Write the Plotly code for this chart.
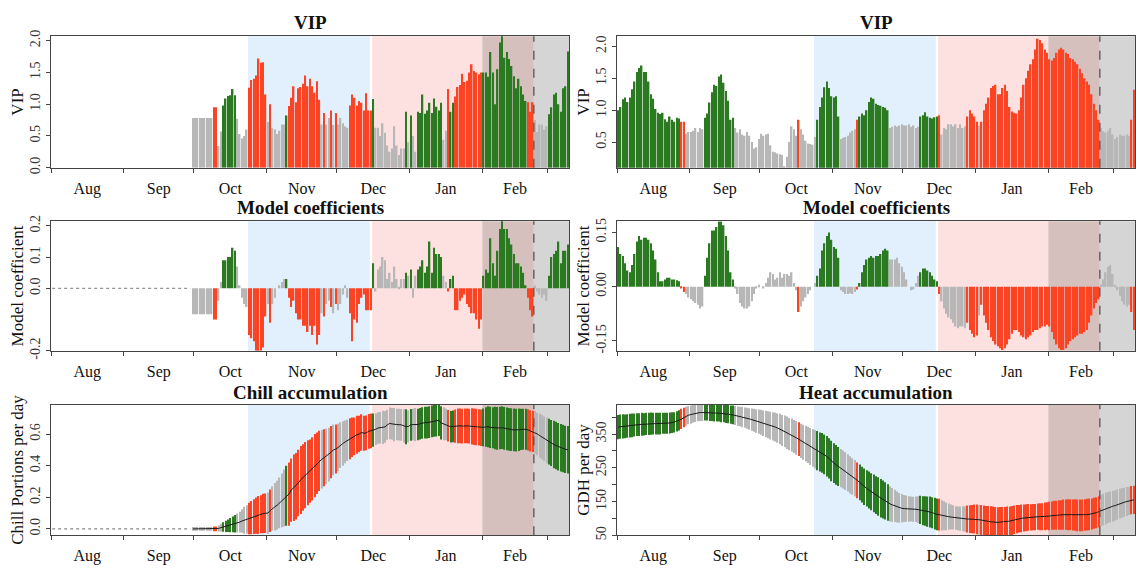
import pandas as pd
import plotly.graph_objects as go

# ---------------- data ----------------
START_DATE = "2000-08-01"
END_DATE = "2001-03-10"
MONTH_STARTS = ["2000-08-01", "2000-09-01", "2000-10-01", "2000-11-01",
                "2000-12-01", "2001-01-01", "2001-02-01", "2001-03-01"]
MONTH_LABELS = ["Aug", "Sep", "Oct", "Nov", "Dec", "Jan", "Feb"]
CHILL_PERIOD = ("2000-10-24", "2000-12-15")
FORCING_PERIOD = ("2000-12-16", "2001-02-01")
BLOOM_EARLY = ("2001-02-01", "2001-02-23")
BLOOM_LATE = ("2001-02-23", END_DATE)
BLOOM_MEAN = "2001-02-23"
VIP_THRESHOLD = 0.8

# Left column (chill) -- one value per day from Aug 1
vip_left = [
    0, 0, 0, 0, 0, 0, 0, 0, 0, 0, 0, 0, 0, 0, 0, 0, 0, 0, 0, 0,
    0, 0, 0, 0, 0, 0, 0, 0, 0, 0, 0, 0, 0, 0, 0, 0, 0, 0, 0, 0,
    0, 0, 0, 0, 0, 0, 0, 0, 0, 0, 0, 0, 0, 0, 0, 0, 0, 0, 0, 0,
    0.78, 0.78, 0.78, 0.78, 0.78, 0.78, 0.78, 0.78, 0.78,
    0.95, 0.95, 0.34, 0.57,
    0.98, 1.09, 1.13, 1.14, 1.24, 1.14,
    0.77, 0.53, 0.46, 0.5, 0.6,
    1.26, 1.38, 1.4, 1.45, 1.72, 1.65, 1.66, 1.15,
    0.72, 1.0, 0.62, 0.6, 0.53, 0.58, 0.68, 0.68,
    0.82,
    0.97, 1.1, 1.28, 1.03, 1.25, 1.27, 1.32, 1.45, 1.28, 1.4, 1.28, 1.18, 1.36, 1.07,
    0.68, 0.86, 0.68, 0.78, 0.9, 0.67, 0.86, 0.68, 0.78, 0.7, 0.65, 0.63,
    0.98, 1.15, 1.1, 0.98, 1.05, 1.02, 0.9, 1.17, 0.9, 0.9,
    1.08,
    0.63, 0.63, 0.5, 0.7, 0.55, 0.35, 0.25, 0.3, 0.65, 0.35, 0.2, 0.3, 0.3,
    0.88, 0.4, 0.82, 0.5, 0.25,
    0.88, 0.86, 1.15, 0.85, 0.9, 1.02, 0.86, 1.09, 0.96, 0.9, 1.02,
    0.44, 0.58,
    1.24, 0.88, 1.02,
    1.12, 1.27, 1.3, 1.48, 1.35, 1.37, 1.5, 1.63, 1.52, 1.5, 1.47, 1.5,
    1.5, 1.5, 1.43, 1.82, 1.5, 1.0, 1.55, 1.97, 2.08, 1.73, 1.82, 1.71, 1.6, 1.44,
    1.25, 1.4, 1.28, 1.15, 1.05,
    1.03, 0.88, 1.03,
    0.75, 0.56, 0.68, 0.68, 0.6, 0.65,
    0.84, 0.95, 1.15, 1.18, 1.0, 0.88, 1.25, 1.28, 1.83,
]
coef_left = [
    0, 0, 0, 0, 0, 0, 0, 0, 0, 0, 0, 0, 0, 0, 0, 0, 0, 0, 0, 0,
    0, 0, 0, 0, 0, 0, 0, 0, 0, 0, 0, 0, 0, 0, 0, 0, 0, 0, 0, 0,
    0, 0, 0, 0, 0, 0, 0, 0, 0, 0, 0, 0, 0, 0, 0, 0, 0, 0, 0, 0,
    -0.083, -0.083, -0.083, -0.083, -0.083, -0.083, -0.083, -0.083, -0.083,
    -0.1, -0.1, -0.04, 0.02,
    0.09, 0.09, 0.1, 0.1, 0.13, 0.12,
    0.07, 0.01, -0.03, -0.05, -0.06,
    -0.15, -0.16, -0.17, -0.2, -0.21, -0.2, -0.19, -0.09,
    -0.05, -0.11, -0.05, -0.03, 0.0, 0.01, 0.02, 0.03,
    0.03,
    -0.03, -0.06, -0.04, -0.08, -0.1, -0.1, -0.12, -0.12, -0.14, -0.12, -0.15, -0.12, -0.18, -0.15,
    -0.08, -0.09, -0.05, -0.04, -0.06, -0.08, -0.05, -0.07, -0.05, -0.02, 0.01, -0.03,
    -0.08, -0.17, -0.1, -0.11, -0.05, -0.03, -0.02, -0.07, -0.07, -0.07,
    0.08,
    -0.01, 0.06, 0.07, 0.1, 0.09, 0.03, 0.05, 0.02, 0.07, 0.03, 0.005, 0.03, 0.03,
    0.05, 0.04, 0.06, -0.03, 0.04,
    0.06, 0.07, 0.09, 0.05, 0.07, 0.15, 0.05, 0.13, 0.11, 0.11, 0.1,
    0.04, 0.02,
    -0.01, 0.03, 0.04,
    -0.07, -0.07, -0.04, -0.03, -0.02, -0.05, -0.06, -0.08, -0.08, -0.1, -0.13, -0.1,
    0.04, 0.06, 0.05, 0.16, 0.08, 0.04, 0.12, 0.19, 0.22, 0.19, 0.19, 0.16, 0.14, 0.11,
    0.08, 0.08, 0.07, 0.05, 0.01,
    -0.03, -0.07, -0.09,
    0.01, -0.01, -0.02, -0.03, -0.02, -0.04,
    0.04, 0.1, 0.11, 0.12, 0.15, 0.08, 0.12, 0.12, 0.14,
]
chill_mean = [
    0, 0, 0, 0, 0, 0, 0, 0, 0, 0, 0, 0, 0, 0, 0, 0, 0, 0, 0, 0,
    0, 0, 0, 0, 0, 0, 0, 0, 0, 0, 0, 0, 0, 0, 0, 0, 0, 0, 0, 0,
    0, 0, 0, 0, 0, 0, 0, 0, 0, 0, 0, 0, 0, 0, 0, 0, 0, 0, 0, 0,
    0.0, 0.0, 0.0, 0.0, 0.0, 0.0, 0.0, 0.0, 0.0, 0.0,
    0.001, 0.003, 0.008, 0.012, 0.016, 0.02, 0.024, 0.029, 0.033, 0.038,
    0.043, 0.05, 0.055, 0.06, 0.066, 0.072, 0.078, 0.084, 0.088, 0.093,
    0.097, 0.099, 0.1, 0.115, 0.13, 0.14, 0.15, 0.165, 0.18, 0.195,
    0.21, 0.22, 0.245, 0.26, 0.27, 0.29, 0.31, 0.325, 0.34, 0.355,
    0.365, 0.38, 0.4, 0.415, 0.43, 0.44, 0.45, 0.46, 0.47, 0.485,
    0.5, 0.505, 0.515, 0.53, 0.54, 0.55, 0.56, 0.57, 0.58, 0.585,
    0.595, 0.6, 0.61, 0.605, 0.607, 0.617, 0.62, 0.625, 0.63, 0.638,
    0.64, 0.642, 0.645, 0.658, 0.667, 0.664, 0.66, 0.66, 0.659, 0.658,
    0.652, 0.646, 0.648, 0.658, 0.66, 0.66, 0.66, 0.665, 0.67, 0.672,
    0.672, 0.675, 0.68, 0.683, 0.684, 0.687, 0.67, 0.665, 0.66, 0.652,
    0.646, 0.648, 0.65, 0.652, 0.652, 0.65, 0.652, 0.652, 0.65, 0.648,
    0.646, 0.644, 0.642, 0.64, 0.642, 0.645, 0.646, 0.642, 0.64, 0.638,
    0.636, 0.638, 0.64, 0.636, 0.633, 0.63, 0.628, 0.626, 0.625, 0.627,
    0.629, 0.63, 0.63, 0.626, 0.62, 0.617, 0.61, 0.6, 0.59, 0.58,
    0.57, 0.56, 0.552, 0.543, 0.534, 0.527, 0.52, 0.513, 0.508, 0.503,
    0.5,
]
chill_sd = [
    0, 0, 0, 0, 0, 0, 0, 0, 0, 0, 0, 0, 0, 0, 0, 0, 0, 0, 0, 0,
    0, 0, 0, 0, 0, 0, 0, 0, 0, 0, 0, 0, 0, 0, 0, 0, 0, 0, 0, 0,
    0, 0, 0, 0, 0, 0, 0, 0, 0, 0, 0, 0, 0, 0, 0, 0, 0, 0, 0, 0,
    0.012, 0.012, 0.012, 0.012, 0.012, 0.012, 0.012, 0.012, 0.012, 0.015,
    0.015, 0.02, 0.025, 0.03, 0.035, 0.04, 0.045, 0.05, 0.055, 0.06,
    0.065, 0.075, 0.085, 0.09, 0.1, 0.105, 0.11, 0.115, 0.12, 0.12,
    0.125, 0.125, 0.13, 0.135, 0.14, 0.15, 0.155, 0.16, 0.17, 0.18,
    0.19, 0.2, 0.2, 0.21, 0.21, 0.21, 0.215, 0.21, 0.21, 0.205,
    0.2, 0.2, 0.2, 0.195, 0.19, 0.185, 0.18, 0.175, 0.17, 0.165,
    0.16, 0.155, 0.15, 0.145, 0.14, 0.135, 0.13, 0.13, 0.125, 0.12,
    0.12, 0.115, 0.115, 0.11, 0.11, 0.11, 0.11, 0.105, 0.1, 0.1,
    0.1, 0.105, 0.1, 0.095, 0.1, 0.1, 0.105, 0.1, 0.1, 0.1,
    0.105, 0.11, 0.1, 0.1, 0.1, 0.105, 0.1, 0.1, 0.1, 0.1,
    0.1, 0.1, 0.1, 0.1, 0.1, 0.1, 0.105, 0.105, 0.1, 0.1,
    0.1, 0.1, 0.105, 0.11, 0.11, 0.11, 0.11, 0.11, 0.11, 0.115,
    0.115, 0.115, 0.115, 0.115, 0.12, 0.125, 0.13, 0.13, 0.13, 0.135,
    0.135, 0.135, 0.135, 0.135, 0.135, 0.135, 0.135, 0.135, 0.135, 0.135,
    0.13, 0.13, 0.13, 0.13, 0.13, 0.13, 0.135, 0.135, 0.14, 0.14,
    0.14, 0.145, 0.145, 0.145, 0.15, 0.15, 0.15, 0.15, 0.15, 0.15,
    0.15,
]

# Right column (heat) -- one value per day from Aug 1
vip_right = [
    1.0, 1.05, 1.17, 1.2, 1.13, 1.2, 1.33, 1.45, 1.6, 1.66, 1.7, 1.6, 1.6, 1.45,
    1.25, 1.18, 1.02, 0.96, 0.94, 0.96, 0.86, 0.82, 0.9, 0.85, 0.82, 0.88, 0.87,
    0.82, 0.82,
    0.63, 0.66, 0.66, 0.68, 0.72, 0.66, 0.72, 0.7,
    0.88, 0.95, 1.12, 1.28, 1.4, 1.38, 1.53, 1.56, 1.43, 1.3, 1.15, 0.85, 0.88,
    0.72, 0.65, 0.7, 0.62, 0.6, 0.66, 0.6, 0.5, 0.4, 0.42, 0.55, 0.63, 0.6, 0.62,
    0.63, 0.45, 0.35, 0.34, 0.32, 0.31, 0.3, 0.12, 0.27, 0.5, 0.75, 0.7, 0.6,
    0.85,
    0.7, 0.62, 0.52, 0.48, 0.47, 0.46, 0.58,
    0.85, 1.05, 1.2, 1.36, 1.45, 1.35, 1.22, 1.2, 1.22, 0.9,
    0.55, 0.57, 0.58, 0.6, 0.65, 0.68, 0.7,
    0.85,
    0.9, 0.95, 0.92, 1.0, 1.13, 1.2, 1.18, 1.1, 1.08, 1.07, 1.05, 1.04, 1.0,
    0.72, 0.74, 0.76, 0.74, 0.76, 0.78, 0.76, 0.76, 0.78, 0.74, 0.76, 0.72, 0.74,
    0.9, 0.92, 0.97, 0.9, 0.88, 0.87, 0.89, 0.9,
    0.92,
    0.62, 0.72, 0.7, 0.78, 0.78, 0.75, 0.78, 0.72, 0.78, 0.72, 0.75,
    0.9, 1.0, 0.95, 0.9, 0.82,
    0.76,
    0.82, 1.0, 1.1, 1.2, 1.35, 1.38, 1.4, 1.25, 1.25, 1.35, 1.4, 1.3, 1.05, 0.98,
    0.96, 0.95, 1.0, 1.2, 1.4, 1.5, 1.62, 1.72, 1.8, 1.95, 2.12, 2.1, 2.05, 1.95,
    1.9, 1.8, 1.78, 1.82, 1.9, 1.95, 1.98, 1.95, 1.9, 1.88, 1.82, 1.8, 1.76, 1.72,
    1.65, 1.58, 1.5, 1.45, 1.4, 1.25, 1.1, 1.0, 0.85,
    0.72, 0.67, 0.65, 0.68, 0.72, 0.62, 0.55, 0.58, 0.62, 0.6, 0.6, 0.62, 0.6,
    0.85, 1.32,
]
coef_right = [
    0.11, 0.09, 0.085, 0.065, 0.045, 0.04, 0.06, 0.09, 0.125, 0.14, 0.13, 0.135,
    0.135, 0.13, 0.12, 0.1, 0.075, 0.04, 0.015, 0.015, 0.02, 0.025, 0.025, 0.02,
    0.02, 0.018, 0.015,
    -0.005, -0.015,
    -0.02, -0.03, -0.035, -0.04, -0.045, -0.05, -0.06, -0.055,
    0.03, 0.08, 0.12, 0.155, 0.155, 0.165, 0.18, 0.18, 0.17, 0.14, 0.1, 0.04, 0.02,
    -0.005, -0.02, -0.045, -0.055, -0.06, -0.06, -0.055, -0.04, -0.02, -0.005,
    0.005, 0.0, -0.005, 0.01, 0.025, 0.04, 0.035, 0.02, 0.025, 0.04, 0.025, 0.035,
    0.035, 0.03, 0.04, 0.01, -0.01,
    -0.07,
    -0.055, -0.04, -0.03, -0.02, -0.01, 0.0, 0.01,
    0.03, 0.05, 0.1, 0.12, 0.14, 0.15, 0.13, 0.11, 0.105, 0.08,
    -0.01, -0.015, -0.02, -0.02, -0.018, -0.02, -0.015,
    -0.008,
    0.01, 0.04, 0.06, 0.075, 0.08, 0.085, 0.08, 0.085, 0.085, 0.09, 0.1, 0.105, 0.1,
    0.075, 0.075, 0.075, 0.08, 0.065, 0.055, 0.04, 0.02, 0.0, -0.01, -0.008, 0.01, 0.03,
    0.04, 0.05, 0.05, 0.045, 0.04, 0.03, 0.02, 0.015,
    -0.02,
    -0.04, -0.06, -0.075, -0.085, -0.09, -0.1, -0.11, -0.115, -0.11, -0.11, -0.115,
    -0.1, -0.12, -0.13, -0.14, -0.135,
    -0.08,
    -0.05, -0.08, -0.1, -0.12, -0.14, -0.15, -0.16, -0.165, -0.17, -0.175, -0.17,
    -0.16, -0.145, -0.13, -0.12, -0.12, -0.125, -0.135, -0.14, -0.145, -0.14,
    -0.135, -0.125, -0.12, -0.12, -0.115, -0.11, -0.11, -0.105, -0.11, -0.125,
    -0.145, -0.16, -0.17, -0.175, -0.175, -0.17, -0.16, -0.15, -0.145, -0.14,
    -0.135, -0.13, -0.13, -0.125, -0.12, -0.1, -0.08, -0.06, -0.045, -0.035,
    0.005, 0.02, 0.04, 0.055, 0.06, 0.035, 0.005, -0.01, -0.025, -0.04, -0.05,
    -0.055, -0.05,
    -0.07, -0.12,
]
heat_mean = [
    371, 372, 373, 373, 374, 375, 376, 377, 378, 378, 379, 379, 380, 380, 381, 381,
    381, 381, 381, 382, 382, 382, 383, 384, 385, 388, 391, 395, 399, 403, 406, 408,
    410, 412, 413, 414, 414, 414, 414, 413, 413, 412, 412, 412, 411, 411, 410, 409,
    408, 407, 405, 403, 402, 400, 399, 397, 395, 393, 391, 389, 387, 385, 382, 380,
    378, 375, 373, 371, 368, 365, 361, 358, 354, 350, 347, 343, 339, 335, 330, 326,
    322, 318, 313, 309, 305, 301, 297, 294, 290, 284, 278, 270, 264, 259, 254, 249,
    245, 240, 235, 229, 224, 219, 213, 207, 200, 194, 189, 184, 179, 174, 169, 165,
    160, 156, 152, 147, 143, 140, 137, 134, 131, 130, 129, 129, 128, 128, 127, 127,
    126, 125, 123, 122, 120, 119, 117, 114, 112, 111, 109, 108, 106, 105, 104, 103,
    101, 100, 99, 99, 98, 98, 98, 98, 98, 97, 96, 95, 93, 92, 91, 90,
    89, 88, 88, 89, 89, 90, 91, 92, 94, 96, 98, 99, 100, 101, 102, 103,
    103, 104, 104, 105, 105, 105, 106, 107, 107, 108, 109, 109, 110, 110, 111, 111,
    111, 111, 110, 110, 109, 109, 109, 110, 111, 112, 113, 115, 117, 120, 123, 126,
    129, 132, 134, 136, 138, 141, 144, 146, 148, 150, 152, 154, 155,
]
heat_sd = [
    36, 36, 36, 35, 35, 35, 35, 34, 34, 34, 34, 33, 33, 33, 33, 32, 32, 32, 32, 31,
    31, 31, 31, 31, 30, 30, 30,
    30, 29,
    28, 27, 27, 26, 26, 25, 25, 25, 24, 24, 24, 24, 25, 25, 25, 26, 26, 27, 27, 27, 28,
    28, 29, 29, 30, 30, 31, 32, 33, 34, 35, 36,
    37, 38, 39, 40, 41, 42, 43, 44, 45, 46, 47, 48, 48, 49, 49, 50,
    50,
    51, 52, 53, 54, 55, 56, 57,
    58, 58, 59, 59, 60, 60, 60, 59, 59, 58,
    57, 56, 56, 55, 55, 54, 54,
    53,
    53, 53, 54, 54, 55, 55, 56, 56, 57, 57, 56, 55, 54,
    52, 50, 48, 46, 44, 42, 40, 39, 38, 37, 37, 38, 40,
    42, 43, 44, 45, 46, 46, 47, 47,
    47,
    45, 43, 41, 39, 37, 36, 35, 35, 36, 37, 38,
    40, 41, 42, 43, 44, 44, 45, 45, 45, 46, 46, 46, 46, 45, 45, 45, 44, 44, 43, 43,
    42, 42, 41, 41, 40, 40, 40, 39, 39, 39, 39, 40, 40, 41, 41, 42, 42, 43, 43, 44,
    44, 45, 45, 46, 46, 46, 47, 47, 47, 47, 47, 47, 47, 46, 46, 46, 46,
    47, 47, 47, 46, 46, 46, 45, 45, 44, 44, 43, 43, 42, 42, 42,
]

N_DAYS = len(vip_right)
for name, arr in [("vip_left", vip_left), ("coef_left", coef_left), ("chill_mean", chill_mean),
                  ("chill_sd", chill_sd), ("coef_right", coef_right), ("heat_mean", heat_mean),
                  ("heat_sd", heat_sd)]:
    assert len(arr) == N_DAYS, (name, len(arr), N_DAYS)

# ---------------- styling ----------------
GREEN = "#2b7a22"
RED = "#fb4424"
GREY = "#b7b7b7"
BLUE_BG = "#e2effc"
PINK_BG = "#fde1e1"
BROWN_BG = "#d5c0bd"
GREY_BG = "#d5d5d5"
FONT = "Liberation Serif"
W, H = 1136, 572
DAY_MS = 86400000
BAR_W = 0.64 * DAY_MS
SD_W = 0.5 * DAY_MS

days = pd.date_range(START_DATE, periods=N_DAYS, freq="D") + pd.Timedelta(hours=12)


def importance_colors(vip, coef):
    out = []
    for v, c in zip(vip, coef):
        if v > VIP_THRESHOLD and c > 0:
            out.append(GREEN)
        elif v > VIP_THRESHOLD and c < 0:
            out.append(RED)
        else:
            out.append(GREY)
    return out


col_left = importance_colors(vip_left, coef_left)
col_right = importance_colors(vip_right, coef_right)

fig = go.Figure()

# panel positions in pixels: (x0, x1) and (ytop, ybottom)
COLS = [(51, 569), (617, 1135)]
ROWS = [(31, 166), (221, 354), (409.5, 543.5)]
TITLE_Y = [17, 207, 396.5]
TITLES = [["VIP", "VIP"], ["Model coefficients", "Model coefficients"],
          ["Chill accumulation", "Heat accumulation"]]
YTITLES = [["VIP", "VIP"], ["Model coefficient", "Model coefficient"],
           ["Chill Portions per day", "GDH per day"]]


def sfx(n):
    return "" if n == 1 else str(n)


def xa(n):
    return "x" + sfx(n)


def ya(n):
    return "y" + sfx(n)


# --- VIP panels
fig.add_trace(go.Bar(x=days, y=vip_left, marker=dict(color=col_left, line=dict(width=0)),
                     width=BAR_W, xaxis=xa(1), yaxis=ya(1)))
fig.add_trace(go.Bar(x=days, y=vip_right, marker=dict(color=col_right, line=dict(width=0)),
                     width=BAR_W, xaxis=xa(2), yaxis=ya(2)))

# --- coefficient panels
zero_days = [d for d, v in zip(days, vip_left) if v == 0]
fig.add_trace(go.Scatter(x=zero_days, y=[0] * len(zero_days), mode="lines",
                         line=dict(color="#777777", width=1, dash="dot"),
                         xaxis=xa(3), yaxis=ya(3)))
fig.add_trace(go.Bar(x=days, y=coef_left, marker=dict(color=col_left, line=dict(width=0)),
                     width=BAR_W, xaxis=xa(3), yaxis=ya(3)))
fig.add_trace(go.Bar(x=days, y=coef_right, marker=dict(color=col_right, line=dict(width=0)),
                     width=BAR_W, xaxis=xa(4), yaxis=ya(4)))

# --- accumulation panels
flat_days = [d for d, s in zip(days, chill_sd) if s == 0]
fig.add_trace(go.Scatter(x=flat_days, y=[0] * len(flat_days), mode="lines",
                         line=dict(color="#888888", width=1.2, dash="dot"),
                         xaxis=xa(5), yaxis=ya(5)))
fig.add_trace(go.Bar(x=days, y=[2 * s for s in chill_sd],
                     base=[m - s for m, s in zip(chill_mean, chill_sd)],
                     marker=dict(color=col_left, line=dict(width=0)),
                     width=SD_W, xaxis=xa(5), yaxis=ya(5)))
act = [(d, m) for d, m, s in zip(days, chill_mean, chill_sd) if s > 0]
fig.add_trace(go.Scatter(x=[a[0] for a in act], y=[a[1] for a in act], mode="lines",
                         line=dict(color="#1a1a1a", width=1), xaxis=xa(5), yaxis=ya(5)))
fig.add_trace(go.Bar(x=days, y=[2 * s for s in heat_sd],
                     base=[m - s for m, s in zip(heat_mean, heat_sd)],
                     marker=dict(color=col_right, line=dict(width=0)),
                     width=SD_W, xaxis=xa(6), yaxis=ya(6)))
fig.add_trace(go.Scatter(x=days, y=heat_mean, mode="lines",
                         line=dict(color="#1a1a1a", width=1), xaxis=xa(6), yaxis=ya(6)))

# ---------------- axes ----------------
month_starts = pd.to_datetime(MONTH_STARTS)
mid_months = [month_starts[i] + (month_starts[i + 1] - month_starts[i]) / 2
              for i in range(len(MONTH_LABELS))]

Y_SPECS = {
    1: dict(range=[0, 2.07], tickvals=[0, 0.5, 1, 1.5, 2],
            ticktext=["0.0", "0.5", "1.0", "1.5", "2.0"]),
    2: dict(range=[0.1, 2.16], tickvals=[0.5, 1, 1.5, 2],
            ticktext=["0.5", "1.0", "1.5", "2.0"]),
    3: dict(range=[-0.2, 0.215], tickvals=[-0.2, 0, 0.1, 0.2],
            ticktext=["-0.2", "0.0", "0.1", "0.2"]),
    4: dict(range=[-0.177, 0.181], tickvals=[-0.15, 0, 0.15],
            ticktext=["-0.15", "0.00", "0.15"]),
    5: dict(range=[-0.04, 0.785], tickvals=[0, 0.2, 0.4, 0.6],
            ticktext=["0.0", "0.2", "0.4", "0.6"]),
    6: dict(range=[50, 437], tickvals=[50, 100, 150, 200, 250, 300, 350, 400],
            ticktext=["50", "", "150", "", "250", "", "350", ""]),
}

layout = dict(width=W, height=H, margin=dict(l=0, r=0, t=0, b=0), autosize=False,
              paper_bgcolor="white", plot_bgcolor="white", showlegend=False,
              barmode="overlay", font=dict(family=FONT, color="#111111"))
shapes = []
annotations = []
for r, (ytop, ybot) in enumerate(ROWS):
    for c, (x0, x1) in enumerate(COLS):
        n = 2 * r + c + 1
        xd = [x0 / W, x1 / W]
        yd = [1 - ybot / H, 1 - ytop / H]
        layout["xaxis" + sfx(n)] = dict(
            domain=xd, anchor=ya(n), type="date", range=[START_DATE, END_DATE],
            tickvals=mid_months, ticktext=MONTH_LABELS, ticks="outside", ticklen=6,
            tickcolor="rgba(0,0,0,0)", tickfont=dict(size=16, family=FONT, color="#111111"),
            showgrid=False, zeroline=False, showline=True, linecolor="#444444",
            linewidth=1, mirror=True,
            minor=dict(ticks="outside", ticklen=4, tickcolor="#444444",
                       tickvals=list(month_starts), showgrid=False),
        )
        ys = Y_SPECS[n]
        layout["yaxis" + sfx(n)] = dict(
            domain=yd, anchor=xa(n), range=ys["range"], tickvals=ys["tickvals"],
            ticktext=ys["ticktext"], tickangle=-90, ticks="outside", ticklen=4,
            tickcolor="#444444", tickfont=dict(size=14, family=FONT, color="#333333"),
            showgrid=False, zeroline=False, showline=True, linecolor="#444444",
            linewidth=1, mirror=True,
            title=dict(text=YTITLES[r][c], font=dict(size=17, family=FONT, color="#111111"),
                       standoff=0),
        )
        xr, yr = xa(n), ya(n) + " domain"
        for (a, b), colr in [(CHILL_PERIOD, BLUE_BG), (FORCING_PERIOD, PINK_BG),
                             (BLOOM_EARLY, BROWN_BG), (BLOOM_LATE, GREY_BG)]:
            shapes.append(dict(type="rect", xref=xr, yref=yr, x0=a, x1=b, y0=0, y1=1,
                               fillcolor=colr, line=dict(width=0), layer="below"))
        shapes.append(dict(type="line", xref=xr, yref=yr, x0=BLOOM_MEAN, x1=BLOOM_MEAN,
                           y0=0, y1=1, line=dict(color="#555555", width=1.3, dash="dash"),
                           layer="above"))
        annotations.append(dict(text=f"<b>{TITLES[r][c]}</b>", xref="paper", yref="paper",
                                x=(x0 + x1) / 2 / W, y=1 - TITLE_Y[r] / H,
                                xanchor="center", yanchor="middle", showarrow=False,
                                font=dict(size=19, family=FONT, color="#111111")))

layout["shapes"] = shapes
layout["annotations"] = annotations
fig.update_layout(**layout)
fig.write_html("out.html")
